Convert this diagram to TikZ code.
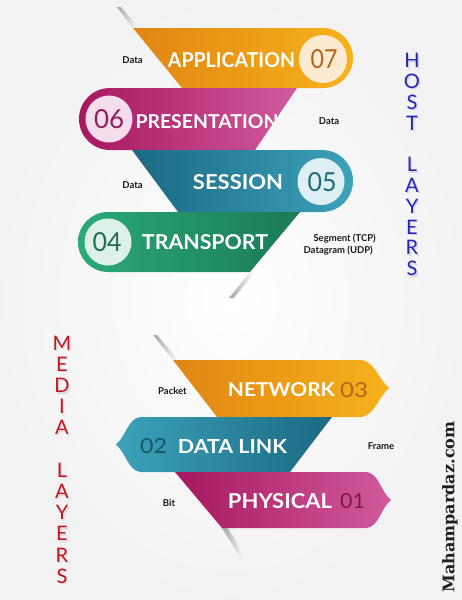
\documentclass[tikz,border=0pt]{standalone}
\usepackage{fontspec}
\usepackage{graphicx}
\setmainfont{Lato}
\newfontfamily\markfont{DejaVu Serif}
\usetikzlibrary{calc}

\definecolor{orgD}{HTML}{E08512}
\definecolor{orgL}{HTML}{F7B21C}
\definecolor{magD}{HTML}{A6175F}
\definecolor{magL}{HTML}{D25A9D}
\definecolor{tealD}{HTML}{1C6983}
\definecolor{tealL}{HTML}{3CA2BA}
\definecolor{grnD}{HTML}{1B7A56}
\definecolor{grnL}{HTML}{2BAA78}
\definecolor{orgC}{HTML}{FCEBD0}
\definecolor{magC}{HTML}{F6DDEB}
\definecolor{tealC}{HTML}{DDEFF3}
\definecolor{grnC}{HTML}{DDF1E8}
\definecolor{orgN}{HTML}{B3651C}
\definecolor{magN}{HTML}{8E1F5C}
\definecolor{tealN}{HTML}{1E6A7F}
\definecolor{grnN}{HTML}{1F6E55}
\definecolor{hostBlue}{HTML}{2626B4}
\definecolor{mediaRed}{HTML}{C4161C}

% scale a piece of text to an exact width and height
\newcommand{\fitbox}[3]{\resizebox{#1pt}{#2pt}{#3}}

\tikzset{
  title/.style={inner sep=0pt, text=white, font=\bfseries},
  numtxt/.style={inner sep=0pt, font=\normalfont},
  tag/.style={inner sep=0pt, text=black!90, font=\bfseries\fontsize{9.5}{10}\selectfont},
  vletter/.style={inner sep=0pt, font=\fontsize{20}{20}\selectfont},
  foldshadow/.style={left color=black!35, right color=white, draw=none},
}

\begin{document}
\begin{tikzpicture}[x=1pt,y=-1pt]
\useasboundingbox (0,0) rectangle (462,600);
% paper background
\fill[white] (0,0) rectangle (462,600);
\shade[inner color=white, outer color=black!5] (0,0) rectangle (462,600);

% ---------- host layers ----------
% fold shadows
\shade[foldshadow] (117,7) -- (133,28) -- (139,28) -- (121,7) -- cycle;
\shade[foldshadow] (250,272) -- (229,298) -- (234,298) -- (255,272) -- cycle;

% 07 application
\shade[left color=orgD, right color=orgL]
  (133,28) -- (323,28) arc[start angle=-90, end angle=90, radius=30] -- (182,88) -- cycle;
\fill[orgC] (323,59) circle[radius=24];
% 06 presentation
\shade[left color=magD, right color=magL]
  (297,88) -- (110,88) arc[start angle=-90, end angle=-270, radius=31] -- (255,150) -- cycle;
\fill[magC] (109,119) circle[radius=23.5];
% 05 session
\shade[left color=tealD, right color=tealL]
  (132,150) -- (322,150) arc[start angle=-90, end angle=90, radius=31] -- (178,212) -- cycle;
\fill[tealC] (321,181.5) circle[radius=23.5];
% 04 transport
\shade[left color=grnL, right color=grnD]
  (300,212) -- (108,212) arc[start angle=-90, end angle=-270, radius=30] -- (250,272) -- cycle;
\fill[grnC] (108,242) circle[radius=23.5];

\node[title] (tApp) at (231.5,60.5) {\fitbox{127}{15}{APPLICATION}};
\node[numtxt, text=orgN] (n07) at (324,59) {\fitbox{27}{19}{07}};
\begin{scope}
  \clip (297,88) -- (90,88) -- (90,150) -- (255,150) -- cycle;
  \node[title] (tPres) at (207,121.5) {\fitbox{143}{14}{PRESENTATION}};
\end{scope}
\node[numtxt, text=magN] (n06) at (109,119.5) {\fitbox{30}{19}{06}};
\node[title] (tSess) at (238,182.5) {\fitbox{90}{15}{SESSION}};
\node[numtxt, text=tealN] (n05) at (322,182) {\fitbox{29}{19}{05}};
\node[numtxt, text=grnN] (n04) at (107,242) {\fitbox{29}{19}{04}};
\node[title] (tTrans) at (205,242.5) {\fitbox{126}{15}{TRANSPORT}};

\node[tag] (d7) at (132.5,60) {Data};
\node[tag] (d6) at (329,121) {Data};
\node[tag] (d5) at (132.5,185) {Data};
\node[tag, anchor=east] (d4a) at (376,239) {Segment (TCP)};
\node[tag, anchor=east] (d4b) at (373,251) {Datagram (UDP)};

% ---------- media layers ----------
\shade[foldshadow] (153,335) -- (173,360) -- (179,360) -- (157,335) -- cycle;
\shade[foldshadow] (222,528) -- (240,557) -- (245,557) -- (228,528) -- cycle;

% 03 network
\shade[left color=orgD, right color=orgL]
  (173,360) -- (362,360) .. controls (374,362) and (379,379) .. (389,388)
  .. controls (379,397) and (374,415) .. (362,417) -- (217,417) -- cycle;
% 02 data link
\shade[left color=tealL, right color=tealD]
  (332,417) -- (140,417) .. controls (128,419) and (126,436) .. (116,444.5)
  .. controls (126,453) and (128,470) .. (140,472) -- (290,472) -- cycle;
% 01 physical
\shade[left color=magD, right color=magL]
  (175,472) -- (367,472) .. controls (379,474) and (381,492) .. (391,500)
  .. controls (381,508) and (379,526) .. (367,528) -- (222,528) -- cycle;

\node[title] (tNet) at (281.5,390) {\fitbox{107}{14}{NETWORK}};
\node[numtxt, text=orgN] (n03) at (354,390.5) {\fitbox{28}{15}{03}};
\node[numtxt, text=tealN!80!black] (n02) at (153.5,446.5) {\fitbox{27}{15}{02}};
\node[title] (tLink) at (232.5,446.5) {\fitbox{109}{14}{DATA LINK}};
\node[title] (tPhys) at (280,501) {\fitbox{104}{15}{PHYSICAL}};
\node[numtxt, text=magN!85!black] (n01) at (352.5,501) {\fitbox{25}{15}{01}};

\node[tag] (d3) at (172.5,391) {Packet};
\node[tag] (d2) at (381,446) {Frame};
\node[tag] (d1) at (169,503) {Bit};

% ---------- vertical captions ----------
\foreach \ch/\i in {H/0,O/1,S/2,T/3,L/5,A/6,Y/7,E/8,R/9,S/10}{
  \node[vletter, text=hostBlue!30, opacity=0.6] (hs\i) at (413.5,62+\i*20.8) {\ch};
  \node[vletter, text=hostBlue] (h\i) at (412,60.5+\i*20.8) {\ch};
}
\foreach \ch/\i in {M/0,E/1,D/2,I/3,A/4,L/6,A/7,Y/8,E/9,R/10,S/11}{
  \node[vletter, text=black!25, opacity=0.5] (ms\i) at (63.5,344.5+\i*21.2) {\ch};
  \node[vletter, text=mediaRed] (m\i) at (62,343+\i*21.2) {\ch};
}

\node[rotate=90, inner sep=0pt, text=black!88] (mark) at (450,507)
  {\resizebox{171pt}{!}{\markfont\bfseries Mahampardaz.com}};
\end{tikzpicture}
\end{document}
